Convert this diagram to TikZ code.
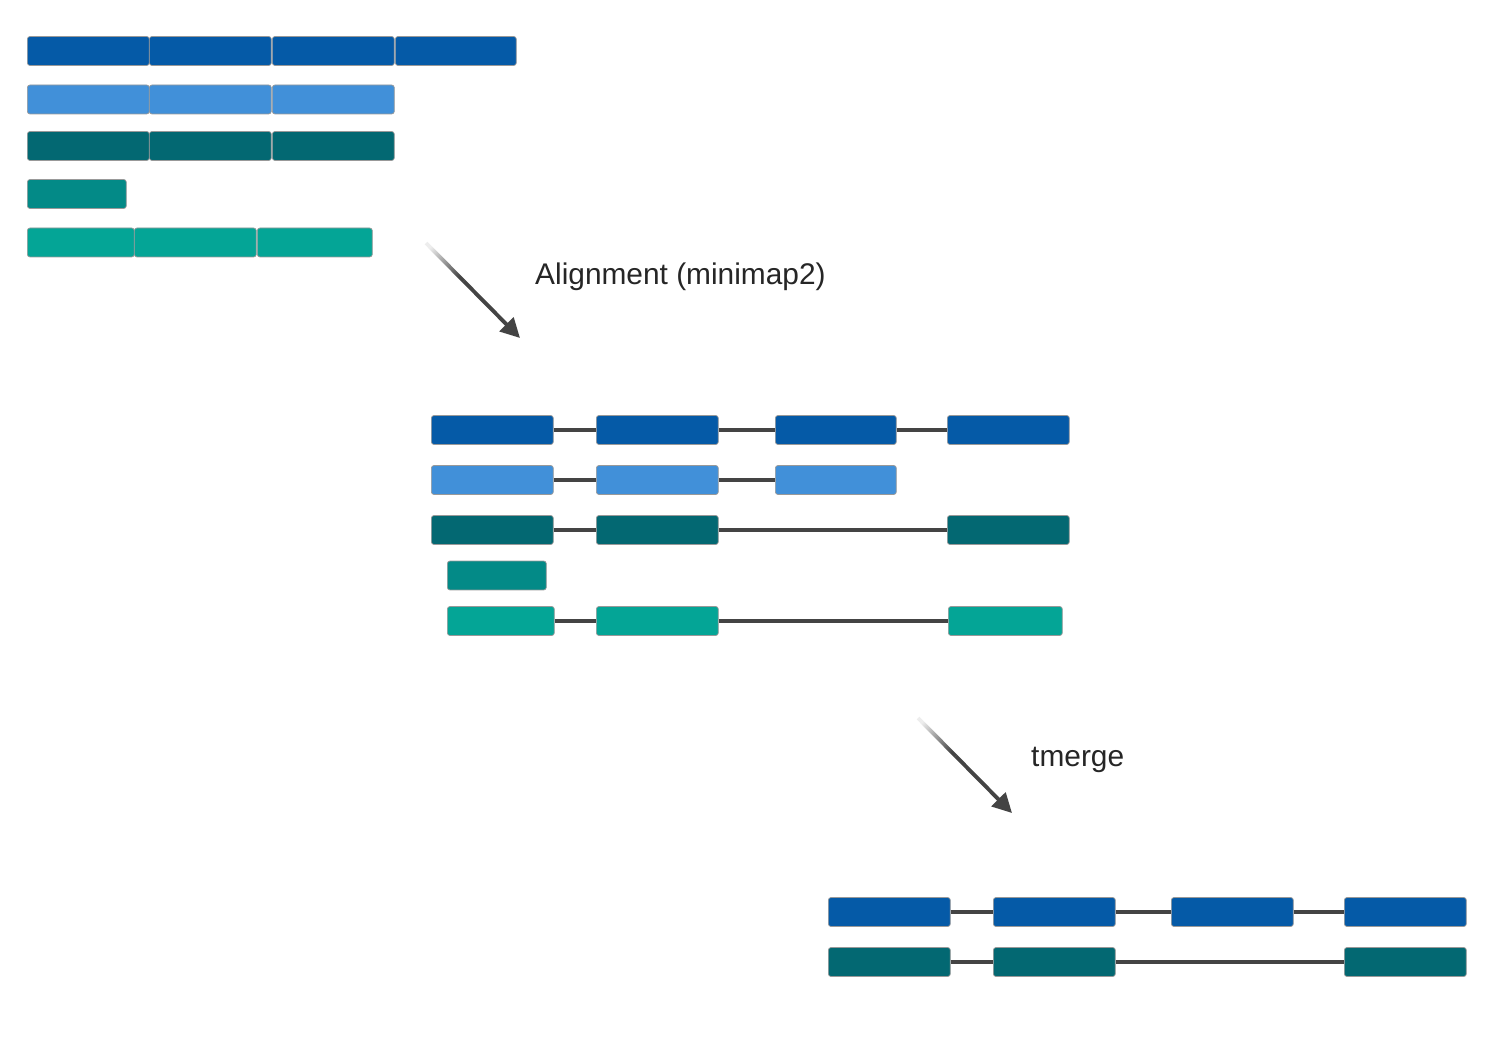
\documentclass[tikz,border=0pt]{standalone}
\usepackage{fontspec}
\setmainfont{Liberation Sans}
\usetikzlibrary{arrows.meta,fadings,calc}

\definecolor{dblue}{HTML}{055AA7}
\definecolor{lblue}{HTML}{4190D9}
\definecolor{dteal}{HTML}{036872}
\definecolor{mteal}{HTML}{038A87}
\definecolor{gteal}{HTML}{04A596}
\definecolor{intron}{HTML}{444444}

\tikzfading[name=arrowfade, left color=transparent!90, right color=transparent!0]

\tikzset{
  exon/.style={fill=#1, draw=black!40, line width=0.4pt, rounded corners=1.5pt,
    minimum height=0.58cm, inner sep=0pt, anchor=west},
  junc/.style={draw=intron, line width=2.2pt},
  step tail/.style={draw=intron, line width=2.2pt, path fading=arrowfade, fading angle=-45},
  step arrow/.style={draw=intron, line width=2.2pt, -{Triangle[length=11pt,width=11pt]}},
  label/.style={font=\fontsize{17}{20}\selectfont, text=black!85, anchor=west}
}

\begin{document}
\begin{tikzpicture}[x=0.02cm, y=-0.02cm]
			\useasboundingbox (0,0) rectangle (1500,1050);
			% reads
			\node[exon=dblue, minimum width=2.44cm] (r11) at (27,51) {};
			\node[exon=dblue, minimum width=2.44cm] (r12) at (149,51) {};
			\node[exon=dblue, minimum width=2.44cm] (r13) at (272,51) {};
			\node[exon=dblue, minimum width=2.42cm] (r14) at (395,51) {};
			\node[exon=lblue, minimum width=2.44cm] (r21) at (27,99.5) {};
			\node[exon=lblue, minimum width=2.44cm] (r22) at (149,99.5) {};
			\node[exon=lblue, minimum width=2.44cm] (r23) at (272,99.5) {};
			\node[exon=dteal, minimum width=2.44cm] (r31) at (27,146) {};
			\node[exon=dteal, minimum width=2.44cm] (r32) at (149,146) {};
			\node[exon=dteal, minimum width=2.44cm] (r33) at (272,146) {};
			\node[exon=mteal, minimum width=1.98cm] (r41) at (27,194) {};
			\node[exon=gteal, minimum width=2.14cm] (r51) at (27,242.5) {};
			\node[exon=gteal, minimum width=2.44cm] (r52) at (134,242.5) {};
			\node[exon=gteal, minimum width=2.30cm] (r53) at (257,242.5) {};

			% alignment step
			\coordinate (s1) at (426,243);
			\coordinate (e1) at (520,338);
			\coordinate (m1) at ($(s1)!0.4!(e1)$);
			\draw[step tail] (s1) -- (m1);
			\draw[step arrow] (m1) -- (e1);
			\node[label] (l1) at (529,277) {Alignment (minimap2)};

			% aligned reads
			\node[exon=dblue, minimum width=2.44cm] (a11) at (431,430) {};
			\node[exon=dblue, minimum width=2.44cm] (a12) at (596,430) {};
			\node[exon=dblue, minimum width=2.42cm] (a13) at (775,430) {};
			\node[exon=dblue, minimum width=2.44cm] (a14) at (947,430) {};
			\node[exon=lblue, minimum width=2.44cm] (a21) at (431,480) {};
			\node[exon=lblue, minimum width=2.44cm] (a22) at (596,480) {};
			\node[exon=lblue, minimum width=2.42cm] (a23) at (775,480) {};
			\node[exon=dteal, minimum width=2.44cm] (a31) at (431,530) {};
			\node[exon=dteal, minimum width=2.44cm] (a32) at (596,530) {};
			\node[exon=dteal, minimum width=2.44cm] (a33) at (947,530) {};
			\node[exon=mteal, minimum width=1.98cm] (a41) at (447,575.5) {};
			\node[exon=gteal, minimum width=2.14cm] (a51) at (447,621) {};
			\node[exon=gteal, minimum width=2.44cm] (a52) at (596,621) {};
			\node[exon=gteal, minimum width=2.28cm] (a53) at (948,621) {};
			\draw[junc] (a11.east) -- (a12.west) (a12.east) -- (a13.west) (a13.east) -- (a14.west);
			\draw[junc] (a21.east) -- (a22.west) (a22.east) -- (a23.west);
			\draw[junc] (a31.east) -- (a32.west) (a32.east) -- (a33.west);
			\draw[junc] (a51.east) -- (a52.west) (a52.east) -- (a53.west);

			% merge step
			\coordinate (s2) at (918,718);
			\coordinate (e2) at (1012,813);
			\coordinate (m2) at ($(s2)!0.4!(e2)$);
			\draw[step tail] (s2) -- (m2);
			\draw[step arrow] (m2) -- (e2);
			\node[label] (l2) at (1025,760) {tmerge};

			% merged transcripts
			\node[exon=dblue, minimum width=2.44cm] (m11) at (828,912) {};
			\node[exon=dblue, minimum width=2.44cm] (m12) at (993,912) {};
			\node[exon=dblue, minimum width=2.44cm] (m13) at (1171,912) {};
			\node[exon=dblue, minimum width=2.44cm] (m14) at (1344,912) {};
			\node[exon=dteal, minimum width=2.44cm] (m21) at (828,962) {};
			\node[exon=dteal, minimum width=2.44cm] (m22) at (993,962) {};
			\node[exon=dteal, minimum width=2.44cm] (m23) at (1344,962) {};
			\draw[junc] (m11.east) -- (m12.west) (m12.east) -- (m13.west) (m13.east) -- (m14.west);
			\draw[junc] (m21.east) -- (m22.west) (m22.east) -- (m23.west);
		\end{tikzpicture}
\end{document}
